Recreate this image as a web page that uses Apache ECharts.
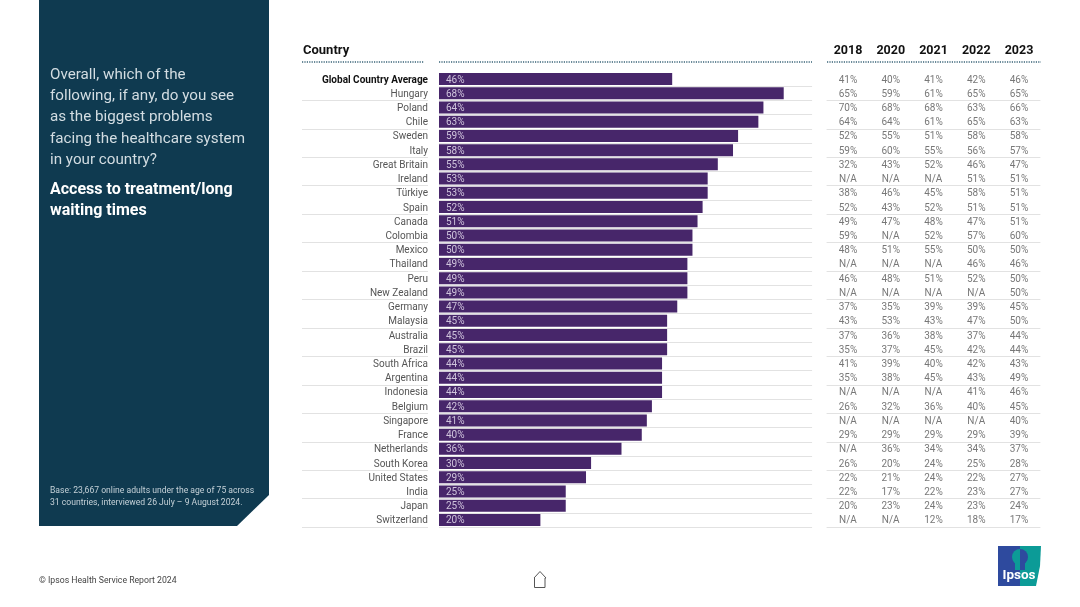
<!DOCTYPE html>
<html>
<head>
<meta charset="utf-8">
<title>Access to treatment/long waiting times</title>
<style>
html, body { margin: 0; padding: 0; background: #fff; }
#chart { width: 1080px; height: 607px; }
</style>
<script src="https://cdn.jsdelivr.net/npm/echarts@6/dist/echarts.min.js"></script>
</head>
<body>
<div id="chart"></div>
<script>
var countries = ['Global Country Average', 'Hungary', 'Poland', 'Chile', 'Sweden', 'Italy', 'Great Britain', 'Ireland',
    'Türkiye', 'Spain', 'Canada', 'Colombia', 'Mexico', 'Thailand', 'Peru', 'New Zealand', 'Germany', 'Malaysia',
    'Australia', 'Brazil', 'South Africa', 'Argentina', 'Indonesia', 'Belgium', 'Singapore', 'France', 'Netherlands',
    'South Korea', 'United States', 'India', 'Japan', 'Switzerland'];
var years = ['2018', '2020', '2021', '2022', '2023'];
var values2024 = [46, 68, 64, 63, 59, 58, 55, 53, 53, 52, 51, 50, 50, 49, 49, 49, 47, 45, 45, 45, 44, 44, 44, 42, 41, 40, 36, 30, 29, 25, 25, 20];
// null = N/A
var values2018 = [41, 65, 70, 64, 52, 59, 32, null, 38, 52, 49, 59, 48, null, 46, null, 37, 43, 37, 35, 41, 35, null, 26, null, 29, null, 26, 22, 22, 20, null];
var values2020 = [40, 59, 68, 64, 55, 60, 43, null, 46, 43, 47, null, 51, null, 48, null, 35, 53, 36, 37, 39, 38, null, 32, null, 29, 36, 20, 21, 17, 23, null];
var values2021 = [41, 61, 68, 61, 51, 55, 52, null, 45, 52, 48, 52, 55, null, 51, null, 39, 43, 38, 45, 40, 45, null, 36, null, 29, 34, 24, 24, 22, 24, 12];
var values2022 = [42, 65, 63, 65, 58, 56, 46, 51, 58, 51, 47, 57, 50, 46, 52, null, 39, 47, 37, 42, 42, 43, 41, 40, null, 29, 34, 25, 22, 23, 23, 18];
var values2023 = [46, 65, 66, 63, 58, 57, 47, 51, 51, 51, 51, 60, 50, 46, 50, 50, 45, 50, 44, 44, 43, 49, 46, 45, 40, 39, 37, 28, 27, 27, 24, 17];
var questionLines = ['Overall, which of the', 'following, if any, do you see', 'as the biggest problems', 'facing the healthcare system', 'in your country?'];
var topicLines = ['Access to treatment/long', 'waiting times'];
var baseLines = ['Base: 23,667 online adults under the age of 75 across', '31 countries, interviewed 26 July – 9 August 2024.'];

var FONT = 'Roboto';
var rowLine = {show: true, showMinLine: false, lineStyle: {color: '#e2e2e2', width: 1}};

var yearColumns = [values2018, values2020, values2021, values2022, values2023];
var tableData = [];
yearColumns.forEach(function (col, c) {
    col.forEach(function (v, r) {
        tableData.push({value: [years[c], countries[r]], text: v === null ? 'N/A' : v + '%'});
    });
});

function textEl(x, y, text, size, color, weight) {
    return {
        type: 'text', x: x, y: y, silent: true,
        style: {text: text, fontFamily: FONT, fontSize: size, fill: color, fontWeight: weight || 'normal', textVerticalAlign: 'middle'}
    };
}

function dotted(x1, x2) {
    return {
        type: 'line', silent: true,
        shape: {x1: x1, y1: 62, x2: x2, y2: 62},
        style: {stroke: '#3a6478', lineWidth: 1.5, lineDash: [1.2, 1.2]}
    };
}

var graphics = [
    {type: 'polygon', silent: true, shape: {points: [[39, 0], [269, 0], [269, 495], [237, 526], [39, 526]]}, style: {fill: '#0f3a50'}},
    textEl(303, 50.5, 'Country', 13, '#111', 'bold'),
    dotted(302, 424), dotted(439, 812), dotted(827, 1041),
    textEl(39, 580.5, '© Ipsos Health Service Report 2024', 8.7, '#444'),
    // home icon
    {type: 'polyline', silent: true, shape: {points: [[534, 578], [540, 571.5], [546, 578], [545, 578], [545, 587.5], [534.5, 587.5], [534.5, 578]]}, style: {fill: 'none', stroke: '#555', lineWidth: 1}},
    // logo
    {type: 'polygon', silent: true, shape: {points: [[998, 546], [1020, 546], [1020, 586], [998, 586]]}, style: {fill: '#2e4a9e'}},
    {type: 'polygon', silent: true, shape: {points: [[1020, 546], [1041, 546], [1040, 566], [1036, 586], [1020, 586]]}, style: {fill: '#0c9b97'}},
    {type: 'sector', silent: true, shape: {cx: 1020, cy: 557, r: 8, startAngle: Math.PI / 2, endAngle: Math.PI * 1.5}, style: {fill: '#0c9b97'}},
    {type: 'sector', silent: true, shape: {cx: 1020, cy: 557, r: 8, startAngle: -Math.PI / 2, endAngle: Math.PI / 2}, style: {fill: '#2e4a9e'}},
    {type: 'rect', silent: true, shape: {x: 1015, y: 563, width: 5, height: 7}, style: {fill: '#0c9b97'}},
    {type: 'rect', silent: true, shape: {x: 1020, y: 563, width: 5, height: 7}, style: {fill: '#2e4a9e'}},
    textEl(1002.5, 576, 'Ipsos', 13.5, '#fff', 'bold')
];
questionLines.forEach(function (t, i) {
    graphics.push(textEl(50, 75 + i * 21.3, t, 15.2, '#d3dde2'));
});
topicLines.forEach(function (t, i) {
    graphics.push(textEl(50, 189.5 + i * 21.3, t, 16, '#ffffff', 'bold'));
});
baseLines.forEach(function (t, i) {
    graphics.push(textEl(50, 490.5 + i * 12.5, t, 8.6, '#c5d1d8'));
});

var chart = echarts.init(document.getElementById('chart'));
chart.setOption({
    animation: false,
    textStyle: {fontFamily: FONT},
    graphic: graphics,
    grid: [
        {left: 439, top: 71.9, width: 373.1, height: 455.2},
        {left: 302, top: 71.9, width: 126, height: 455.2},
        {left: 826.6, top: 71.9, width: 213.8, height: 455.2}
    ],
    xAxis: [
        {gridIndex: 0, type: 'value', min: 0, max: 73.6, show: false},
        {gridIndex: 1, type: 'value', min: 0, max: 1, show: false},
        {
            gridIndex: 2, type: 'category', data: years, position: 'top',
            axisLine: {show: false}, axisTick: {show: false},
            axisLabel: {margin: 15, color: '#111', fontWeight: 'bold', fontSize: 12.5, fontFamily: FONT}
        }
    ],
    yAxis: [
        {
            gridIndex: 0, type: 'category', data: countries, inverse: true,
            axisLine: {show: false}, axisTick: {show: false}, splitLine: rowLine,
            axisLabel: {
                interval: 0, margin: 11, fontSize: 10, color: '#555', fontFamily: FONT, padding: [2, 0, 0, 0],
                formatter: function (v, i) {
                    return i === 0 ? '{avg|' + v + '}' : v;
                },
                rich: {avg: {fontWeight: 'bold', color: '#111', fontSize: 10, fontFamily: FONT}}
            }
        },
        {
            gridIndex: 1, type: 'category', data: countries, inverse: true,
            axisLine: {show: false}, axisTick: {show: false}, axisLabel: {show: false}, splitLine: rowLine
        },
        {
            gridIndex: 2, type: 'category', data: countries, inverse: true,
            axisLine: {show: false}, axisTick: {show: false}, axisLabel: {show: false}, splitLine: rowLine
        }
    ],
    series: [
        {
            type: 'bar', xAxisIndex: 0, yAxisIndex: 0, data: values2024, barWidth: 12,
            itemStyle: {color: '#47266a'},
            label: {
                show: true, position: 'insideLeft', distance: 7, color: '#cfc4dc', fontSize: 10, fontFamily: FONT,
                offset: [0, 1], formatter: '{c}%'
            }
        },
        {
            type: 'scatter', xAxisIndex: 2, yAxisIndex: 2, data: tableData, symbolSize: 1,
            itemStyle: {color: 'transparent'},
            label: {
                show: true, position: 'inside', color: '#555', fontSize: 10, fontFamily: FONT, offset: [0, 1],
                formatter: function (p) {
                    return p.data.text;
                }
            }
        }
    ]
});
</script>
</body>
</html>
